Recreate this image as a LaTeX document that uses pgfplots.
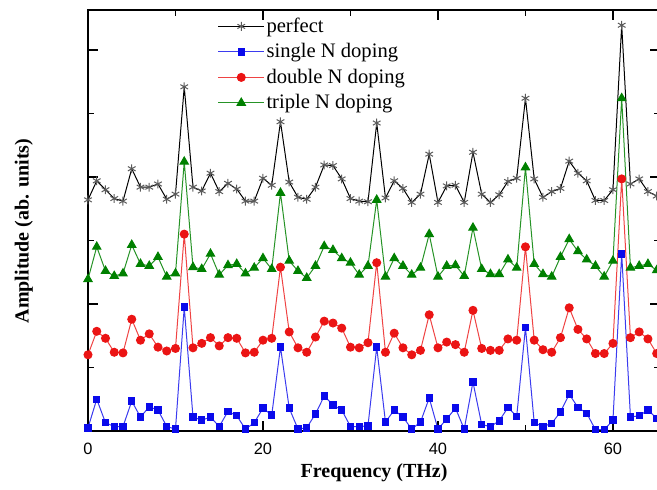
\documentclass[border=0pt]{standalone}
\usepackage{fontspec}
\setmainfont{Liberation Serif}
\newfontfamily\arialfont{Liberation Sans}
\usepackage{pgfplots}
\usepackage{pgfplotstable}
\pgfplotsset{compat=1.18}
\definecolor{sblue}{RGB}{10,10,235}
\definecolor{sred}{RGB}{235,20,20}
\definecolor{sgreen}{RGB}{0,128,0}
\definecolor{sgray}{RGB}{90,90,90}
\pgfplotstableread{
t perfect single double triple
0 3.64 0.05 1.20 2.39
1 3.94 0.50 1.57 2.90
2 3.80 0.13 1.46 2.52
3 3.66 0.07 1.24 2.44
4 3.62 0.07 1.23 2.48
5 4.13 0.47 1.76 2.93
6 3.84 0.22 1.43 2.63
7 3.84 0.38 1.53 2.60
8 3.89 0.33 1.32 2.74
9 3.65 0.07 1.26 2.43
10 3.73 0.03 1.30 2.48
11 5.42 1.95 3.10 4.24
12 3.84 0.22 1.31 2.58
13 3.78 0.17 1.38 2.55
14 4.06 0.22 1.47 2.79
15 3.77 0.07 1.34 2.46
16 3.90 0.31 1.47 2.61
17 3.81 0.24 1.46 2.63
18 3.62 0.03 1.23 2.48
19 3.62 0.13 1.24 2.57
20 3.98 0.36 1.43 2.72
21 3.87 0.25 1.46 2.55
22 4.87 1.32 2.58 3.75
23 3.92 0.36 1.56 2.68
24 3.68 0.03 1.31 2.52
25 3.65 0.05 1.24 2.41
26 3.84 0.27 1.48 2.60
27 4.19 0.55 1.73 2.91
28 4.18 0.41 1.70 2.85
29 3.97 0.33 1.62 2.72
30 3.66 0.07 1.32 2.65
31 3.62 0.07 1.31 2.46
32 3.61 0.08 1.39 2.60
33 4.85 1.32 2.65 3.64
34 3.67 0.14 1.24 2.43
35 3.94 0.33 1.54 2.72
36 3.82 0.22 1.31 2.60
37 3.60 0.03 1.20 2.46
38 3.73 0.14 1.27 2.57
39 4.36 0.52 1.83 3.10
40 3.60 0.03 1.31 2.43
41 3.86 0.19 1.40 2.60
42 3.87 0.36 1.36 2.61
43 3.60 0.03 1.24 2.44
44 4.39 0.77 1.90 3.20
45 3.73 0.10 1.30 2.55
46 3.60 0.07 1.27 2.47
47 3.72 0.16 1.27 2.47
48 3.93 0.37 1.45 2.70
49 3.98 0.23 1.43 2.57
50 5.24 1.63 2.90 4.15
51 3.97 0.13 1.43 2.63
52 3.68 0.07 1.28 2.47
53 3.77 0.12 1.24 2.43
54 3.82 0.30 1.47 2.74
55 4.25 0.58 1.94 3.02
56 4.06 0.37 1.60 2.83
57 3.94 0.28 1.45 2.70
58 3.63 0.02 1.22 2.60
59 3.63 0.02 1.22 2.43
60 3.80 0.17 1.38 2.68
61 6.39 2.79 3.97 5.24
62 3.89 0.22 1.47 2.57
63 3.97 0.24 1.56 2.60
64 3.77 0.33 1.45 2.63
65 3.70 0.20 1.22 2.53
}\datatable
\begin{document}
\begin{tikzpicture}
\begin{axis}[
  scale only axis, width=286.1pt, height=210.5pt,
  xmin=0, xmax=65.4, ymin=0, ymax=6.63,
  clip=false,
  xtick={0,20,40,60}, minor xtick={10,30,50},
  ytick={0,2,4,6}, minor ytick={1,3,5}, yticklabels={},
  major tick length=5pt, minor tick length=3pt,
  tick style={black, line width=0.75pt},
  axis line style={line width=1pt},
  tick label style={font=\arialfont\fontsize{8.2}{10}\selectfont},
  xticklabel style={yshift=-2.5pt},
  /pgf/number format/assume math mode=true,
  xlabel={\bfseries Frequency (THz)},
  ylabel={\bfseries Amplitude (ab. units)},
  label style={font=\fontsize{10.3}{12}\selectfont},
  every axis x label/.style={at={(axis description cs:0.5,-0.1)},anchor=center},
  every axis y label/.style={at={(axis description cs:-0.112,0.475)},anchor=center,rotate=90},
  legend cell align=left,
  legend style={draw=none, fill=none, at={(0.216,1.0)}, anchor=north west,
    font=\fontsize{10.3}{12}\selectfont, row sep=0.75pt,
    nodes={inner sep=1pt, text height=8pt, text depth=2pt}},
  legend image code/.code={\draw[mark repeat=2,mark phase=2,#1] plot coordinates {(0cm,0cm) (0.4cm,0cm) (0.8cm,0cm)};},
]
\coordinate (bl) at (rel axis cs:0,0);
\addplot[black, line width=0.5pt, mark=asterisk, mark size=2.2pt, mark options={draw=sgray, line width=0.5pt}] table[x=t, y=perfect] {\datatable};
\addlegendentry{perfect}
\addplot[sblue!80, line width=0.5pt, mark=square*, mark size=1.6pt, mark options={draw=sblue, fill=sblue}] table[x=t, y=single] {\datatable};
\addlegendentry{single N doping}
\addplot[sred!80, line width=0.5pt, mark=*, mark size=2pt, mark options={draw=sred, fill=sred}] table[x=t, y=double] {\datatable};
\addlegendentry{double N doping}
\addplot[sgreen!85, line width=0.5pt, mark=triangle*, mark size=2.4pt, mark options={draw=sgreen, fill=sgreen}] table[x=t, y=triple] {\datatable};
\addlegendentry{triple N doping}
\end{axis}
\pgfresetboundingbox
\path ([xshift=-44pt,yshift=-29.5pt]bl) rectangle ([xshift=284.5pt,yshift=215.5pt]bl);
\end{tikzpicture}
\end{document}
